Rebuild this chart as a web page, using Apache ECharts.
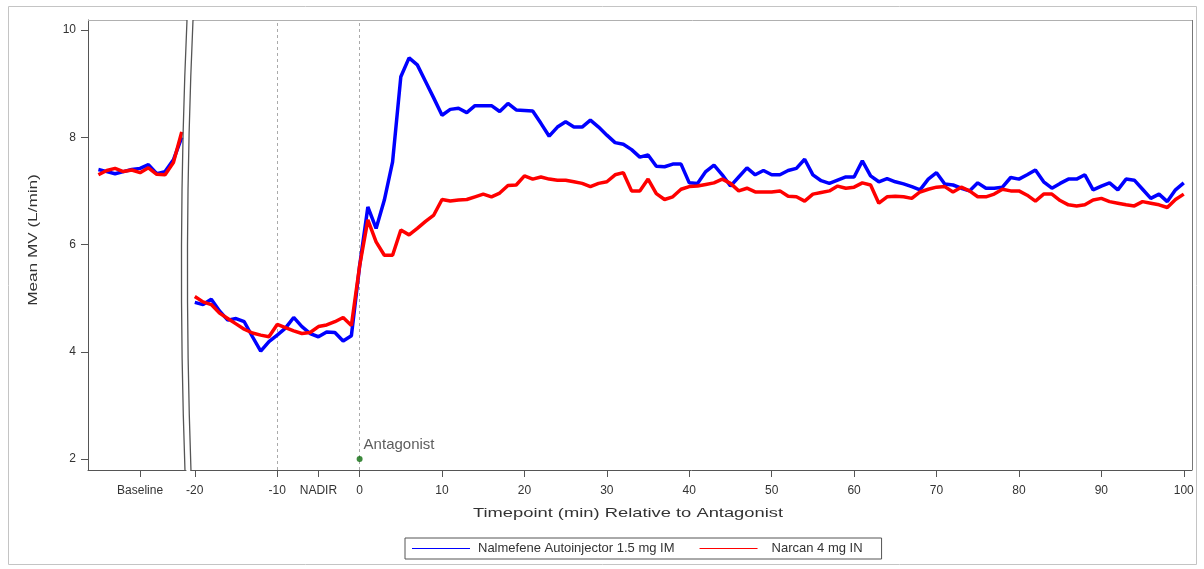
<!DOCTYPE html>
<html>
<head>
<meta charset="utf-8">
<script src="https://cdn.jsdelivr.net/npm/echarts@6/dist/echarts.min.js"></script>
<style>
html,body{margin:0;padding:0;background:#fff;}
#chart{width:1204px;height:569px;}
</style>
</head>
<body>
<div id="chart"></div>
<script>
// ---- data ----
const baselineIdx = [0,1,2,3,4,5,6,7,8,9,10];
const baselineNalmefene = [7.40,7.36,7.32,7.36,7.40,7.42,7.49,7.32,7.36,7.58,8.00];
const baselineNarcan    = [7.30,7.38,7.42,7.36,7.39,7.34,7.43,7.31,7.30,7.53,8.10];

const minutes = [-20,-19,-18,-17,-16,-15,-14,-13,-12,-11,-10,-9,-8,-7,-6,-5,-4,-3,-2,-1,
  0,1,2,3,4,5,6,7,8,9,10,11,12,13,14,15,16,17,18,19,20,21,22,23,24,25,26,27,28,29,30,
  31,32,33,34,35,36,37,38,39,40,41,42,43,44,45,46,47,48,49,50,51,52,53,54,55,56,57,58,59,60,
  61,62,63,64,65,66,67,68,69,70,71,72,73,74,75,76,77,78,79,80,81,82,83,84,85,86,87,88,89,90,
  91,92,93,94,95,96,97,98,99,100];

const nalmefene = [4.92,4.88,4.98,4.76,4.59,4.62,4.56,4.28,4.01,4.19,4.31,4.44,4.64,4.47,4.34,4.28,4.37,4.36,4.20,4.30,
  5.60,6.70,6.30,6.83,7.54,9.13,9.48,9.35,9.04,8.73,8.41,8.52,8.54,8.46,8.59,8.59,8.59,8.48,8.63,8.51,8.50,
  8.49,8.26,8.02,8.19,8.29,8.19,8.19,8.32,8.19,8.04,7.90,7.87,7.77,7.63,7.67,7.46,7.45,7.50,7.50,7.15,
  7.14,7.36,7.48,7.30,7.09,7.26,7.43,7.30,7.38,7.30,7.30,7.38,7.42,7.59,7.30,7.19,7.14,7.20,7.26,7.26,
  7.56,7.28,7.17,7.23,7.17,7.13,7.08,7.02,7.22,7.34,7.13,7.11,7.05,7.00,7.15,7.05,7.05,7.07,7.25,7.22,
  7.30,7.39,7.17,7.05,7.14,7.22,7.22,7.30,7.02,7.09,7.15,7.02,7.22,7.20,7.03,6.86,6.94,6.80,7.02,7.15];

const narcan = [5.03,4.93,4.88,4.72,4.62,4.52,4.42,4.35,4.31,4.28,4.51,4.45,4.39,4.34,4.36,4.47,4.50,4.56,4.64,4.49,
  5.60,6.46,6.05,5.80,5.80,6.27,6.18,6.30,6.43,6.55,6.84,6.81,6.83,6.84,6.89,6.94,6.89,6.96,7.10,7.11,7.28,
  7.22,7.26,7.22,7.20,7.20,7.17,7.14,7.08,7.14,7.17,7.30,7.34,7.00,7.00,7.22,6.95,6.84,6.89,7.03,7.08,
  7.09,7.12,7.15,7.22,7.14,7.00,7.05,6.98,6.98,6.98,7.00,6.90,6.89,6.81,6.94,6.97,7.00,7.09,7.05,7.07,
  7.15,7.11,6.77,6.89,6.90,6.89,6.86,6.98,7.03,7.07,7.08,6.98,7.07,7.00,6.89,6.89,6.94,7.03,7.00,7.00,
  6.92,6.81,6.94,6.94,6.82,6.74,6.72,6.74,6.83,6.86,6.80,6.77,6.74,6.72,6.80,6.77,6.74,6.69,6.84,6.94];

const yTicks = [2,4,6,8,10];
const xTicks = [-20,-10,-5,0,10,20,30,40,50,60,70,80,90,100];
const xTickNames = {"-5": "NADIR"};
const baselineTick = [5];
const baselineTickName = "Baseline";
const refLines = [-10, 0];
const antagonist = [0, 2];
const seriesNames = ["Nalmefene Autoinjector 1.5 mg IM", "Narcan 4 mg IN"];
const yTitle = "Mean MV (L/min)";
const xTitle = "Timepoint (min) Relative to Antagonist";

// ---- chart ----
const FONT = "Liberation Sans";
const BLUE = "#0000ff", RED = "#ff0000";
const zip = (xs, ys) => xs.map((x, i) => [x, ys[i]]);

const chart = echarts.init(document.getElementById('chart'), null, {renderer: 'canvas'});

const yCommon = {
  type: 'value', min: 1.795, max: 10.187,
  splitLine: {show: false}
};

const option = {
  animation: false,
  backgroundColor: '#fff',
  textStyle: {fontFamily: FONT},
  grid: [
    {left: 88, top: 20, width: 98, height: 450},
    {left: 191, top: 20, width: 1001, height: 450}
  ],
  xAxis: [
    {
      gridIndex: 0, type: 'value', min: -1.25, max: 10.51,
      axisLine: {show: true, onZero: false, lineStyle: {color: '#555', width: 1}},
      axisTick: {show: true, customValues: baselineTick, length: 7, lineStyle: {color: '#555'}},
      axisLabel: {show: true, customValues: baselineTick, formatter: () => baselineTickName,
                  color: '#333', fontSize: 12, fontFamily: FONT, margin: 15},
      splitLine: {show: false}
    },
    {
      gridIndex: 1, type: 'value', min: -20.46, max: 101.0,
      axisLine: {show: true, onZero: false, lineStyle: {color: '#555', width: 1}},
      axisTick: {show: true, customValues: xTicks, length: 7, lineStyle: {color: '#555'}},
      axisLabel: {show: true, customValues: xTicks,
                  formatter: v => (xTickNames[String(v)] !== undefined ? xTickNames[String(v)] : String(v)),
                  color: '#333', fontSize: 12, fontFamily: FONT, margin: 15},
      splitLine: {show: false}
    }
  ],
  yAxis: [
    Object.assign({}, yCommon, {
      gridIndex: 0,
      axisLine: {show: true, onZero: false, lineStyle: {color: '#555', width: 1}},
      axisTick: {show: true, customValues: yTicks, length: 7, lineStyle: {color: '#555'}},
      axisLabel: {show: true, customValues: yTicks, color: '#333', fontSize: 12, fontFamily: FONT, margin: 12}
    }),
    Object.assign({}, yCommon, {gridIndex: 1, show: false})
  ],
  legend: {
    left: 405, top: 538,
    data: [
      {name: seriesNames[0], icon: 'rect'},
      {name: seriesNames[1], icon: 'rect'}
    ],
    itemWidth: 58, itemHeight: 1, itemGap: 25,
    borderColor: '#555', borderWidth: 1, padding: [4, 19, 4, 7],
    formatter: name => (name === seriesNames[0] ? '{a|' + name + '}' : '{b|' + name + '}'),
    textStyle: {
      color: '#333', fontSize: 13, fontFamily: FONT,
      rich: {
        a: {padding: [0, 0, 0, 3], color: '#333', fontSize: 13, fontFamily: FONT},
        b: {padding: [0, 0, 0, 9], color: '#333', fontSize: 13, fontFamily: FONT}
      }
    }
  },
  series: [
    {
      name: seriesNames[0], type: 'line', xAxisIndex: 0, yAxisIndex: 0,
      data: zip(baselineIdx, baselineNalmefene), symbol: 'none',
      lineStyle: {color: BLUE, width: 3.5}, itemStyle: {color: BLUE}, z: 3
    },
    {
      name: seriesNames[1], type: 'line', xAxisIndex: 0, yAxisIndex: 0,
      data: zip(baselineIdx, baselineNarcan), symbol: 'none',
      lineStyle: {color: RED, width: 3.5}, itemStyle: {color: RED}, z: 4
    },
    {
      name: seriesNames[0], type: 'line', xAxisIndex: 1, yAxisIndex: 1,
      data: zip(minutes, nalmefene), symbol: 'none',
      lineStyle: {color: BLUE, width: 3.5}, itemStyle: {color: BLUE}, z: 3,
      markLine: {
        silent: true, symbol: ['none', 'none'], label: {show: false},
        lineStyle: {color: '#aaa', width: 1, type: [3, 3]},
        data: refLines.map(v => ({xAxis: v})),
        z: 1
      }
    },
    {
      name: seriesNames[1], type: 'line', xAxisIndex: 1, yAxisIndex: 1,
      data: zip(minutes, narcan), symbol: 'none',
      lineStyle: {color: RED, width: 3.5}, itemStyle: {color: RED}, z: 4
    },
    {
      type: 'scatter', xAxisIndex: 1, yAxisIndex: 1,
      data: [antagonist], symbol: 'circle', symbolSize: 6,
      itemStyle: {color: '#0b6b0b'}, z: 5,
      label: {show: true, position: 'right', distance: 1, offset: [0, -14],
              formatter: 'Antagonist', color: '#333', fontSize: 15, fontFamily: FONT}
    }
  ],
  graphic: [
    // outer frame
    {type: 'rect', shape: {x: 8.5, y: 6.5, width: 1188, height: 558},
     style: {fill: 'none', stroke: '#c4c4c4', lineWidth: 1}, z: 0, silent: true},
    // top border of plot areas
    {type: 'line', shape: {x1: 88, y1: 20.5, x2: 187, y2: 20.5},
     style: {stroke: '#b0b0b0', lineWidth: 1}, z: 10, silent: true},
    {type: 'line', shape: {x1: 193, y1: 20.5, x2: 1192, y2: 20.5},
     style: {stroke: '#b0b0b0', lineWidth: 1}, z: 10, silent: true},
    // right border
    {type: 'line', shape: {x1: 1192.5, y1: 20, x2: 1192.5, y2: 470},
     style: {stroke: '#777', lineWidth: 1}, z: 10, silent: true},
    // axis break curves
    {type: 'bezierCurve', shape: {x1: 187, y1: 20, x2: 185, y2: 471, cpx1: 177, cpy1: 245},
     style: {stroke: '#555', lineWidth: 1.3, fill: 'none'}, z: 10, silent: true},
    {type: 'bezierCurve', shape: {x1: 193, y1: 20, x2: 191, y2: 471, cpx1: 183, cpy1: 245},
     style: {stroke: '#555', lineWidth: 1.3, fill: 'none'}, z: 10, silent: true},
    // x-axis title
    {type: 'text', x: 628, y: 507, scaleX: 1.41, scaleY: 1,
     style: {text: xTitle, fill: '#333', font: '13px "Liberation Sans"', textAlign: 'center'},
     z: 10, silent: true},
    // y-axis title
    {type: 'text', x: 27, y: 240, rotation: Math.PI / 2, scaleX: 1.32, scaleY: 1,
     style: {text: yTitle, fill: '#333', font: '13px "Liberation Sans"', textAlign: 'center'},
     z: 10, silent: true}
  ]
};

chart.setOption(option);
</script>
</body>
</html>
